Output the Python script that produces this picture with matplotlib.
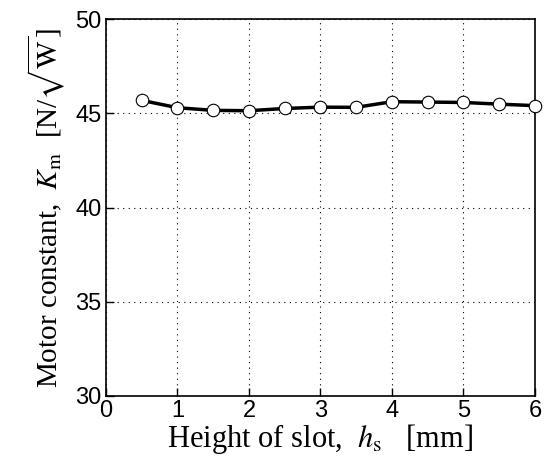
import matplotlib
matplotlib.use('Agg')
import matplotlib.pyplot as plt

# slot height [mm] and motor constant [N/sqrt(W)]
slot_height = [0.5, 1.0, 1.5, 2.0, 2.5, 3.0, 3.5, 4.0, 4.5, 5.0, 5.5, 6.0]
motor_const = [45.69, 45.30, 45.16, 45.14, 45.26, 45.33, 45.32, 45.62, 45.60, 45.58, 45.49, 45.41]

plt.rcParams['mathtext.fontset'] = 'stix'

fig = plt.figure(figsize=(5.52, 4.68), dpi=100)
ax = fig.add_axes([0.192, 0.154, 0.777, 0.805])

ax.plot(slot_height, motor_const, color='black', linewidth=2.5,
        marker='o', markersize=9, markerfacecolor='white',
        markeredgecolor='black', markeredgewidth=0.8, clip_on=False, zorder=3)

ax.set_xlim(0, 6)
ax.set_ylim(30, 50)
ax.set_xticks(range(0, 7))
ax.set_yticks([30, 35, 40, 45, 50])
ax.grid(True, linestyle=(0, (1, 4)), color='black', linewidth=0.8)

ax.tick_params(direction='in', length=6, width=1, labelsize=17, pad=3)
for lbl in ax.get_xticklabels() + ax.get_yticklabels():
    lbl.set_family('Liberation Sans')
for s in ax.spines.values():
    s.set_linewidth(1.2)

ax.set_xlabel(r'Height of slot,  $h_\mathrm{s}$   [mm]',
              family='Liberation Serif', fontsize=22, labelpad=0)
ax.set_ylabel(r'Motor constant,  $K_\mathrm{m}$  [N/$\sqrt{\mathrm{W}}$]',
              family='Liberation Serif', fontsize=21, labelpad=6)

plt.savefig('out.png', dpi=100)
plt.close()
